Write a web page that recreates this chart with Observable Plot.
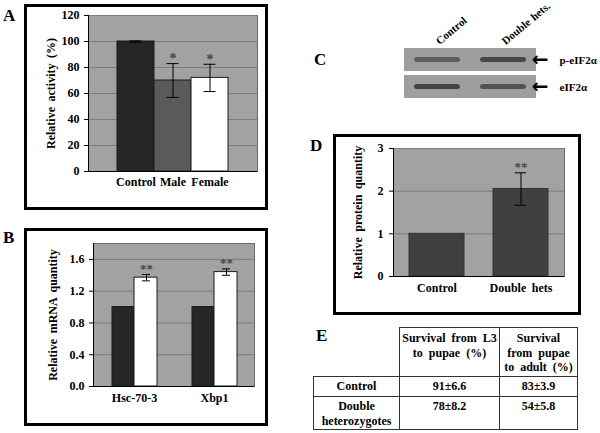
<!DOCTYPE html>
<html><head><meta charset="utf-8">
<script src="https://cdn.jsdelivr.net/npm/d3@7"></script>
<script src="https://cdn.jsdelivr.net/npm/@observablehq/plot@0.6"></script>
<style>
body{margin:0;background:#fff;}
#fig{position:relative;width:600px;height:433px;overflow:hidden;font-family:"Liberation Serif","Times New Roman",serif;font-weight:bold;color:#000;background:#fff;}
.box{position:absolute;border:3px solid #000;box-sizing:border-box;}
.lbl{position:absolute;font-size:17px;line-height:17px;}
.plot{position:absolute;}
.plot svg{font-family:"Liberation Serif","Times New Roman",serif;font-weight:bold;overflow:visible;}
.plot svg text{word-spacing:2.5px;}
#pC svg text{word-spacing:1px;}
#tblE{position:absolute;left:313px;top:327px;border-collapse:collapse;font-size:12px;line-height:14.5px;table-layout:fixed;word-spacing:3px;}
#tblE td{border:1px solid #333;text-align:center;vertical-align:top;padding:2px 0 0 0;}
</style></head>
<body>
<div id="fig">
  <div class="box" style="left:24px;top:4px;width:244px;height:206px"></div>
  <div class="box" style="left:24px;top:228px;width:244px;height:198px"></div>
  <div class="box" style="left:333px;top:134px;width:248px;height:181px"></div>
  <div class="lbl" style="left:3px;top:7px">A</div>
  <div class="lbl" style="left:3px;top:229px">B</div>
  <div class="lbl" style="left:314px;top:51px">C</div>
  <div class="lbl" style="left:310px;top:137px">D</div>
  <div class="lbl" style="left:316px;top:327px">E</div>
  <div class="plot" id="pA" style="left:30px;top:8px"></div>
  <div class="plot" id="pB" style="left:30px;top:233px"></div>
  <div class="plot" id="pC" style="left:380px;top:0px"></div>
  <div class="plot" id="pD" style="left:336px;top:137px"></div>
  <table id="tblE"></table>
</div>
<script>
// ---- Panel A: relative activity ----
const activityGroups = ["Control", "Male", "Female"];
const activityValues = [100, 70, 72];
const activityErrors = [0.4, 13, 10.5];
const activityStars = ["", "*", "*"];
const activityColors = ["#262626", "#5a5a5a", "#ffffff"];
const activityTicks = [0, 20, 40, 60, 80, 100, 120];

// ---- Panel B: relative mRNA quantity ----
const mrnaGenes = ["Hsc-70-3", "Xbp1"];
const mrnaControl = [1.0, 1.0];
const mrnaHets = [1.37, 1.44];
const mrnaHetsErrors = [0.04, 0.04];
const mrnaStars = ["**", "**"];
const mrnaTicks = [0, 0.4, 0.8, 1.2, 1.6];

// ---- Panel C: western blot ----
const blotLanes = ["Control", "Double hets."];
const blotProteins = ["p-eIF2α", "eIF2α"];
const bandIntensityP = [0.55, 0.75];
const bandIntensityTotal = [0.8, 0.65];

// ---- Panel D: relative protein quantity ----
const proteinGroups = ["Control", "Double hets"];
const proteinValues = [1.0, 2.05];
const proteinErrors = [0, 0.38];
const proteinStars = ["", "**"];
const proteinTicks = [0, 1, 2, 3];

// ---- Panel E: survival table ----
const survivalHeaders = ["Survival from L3<br>to pupae (%)", "Survival<br>from pupae<br>to adult (%)"];
const survivalRows = ["Control", "Double<br>heterozygotes"];
const survivalL3 = ["91±6.6", "78±8.2"];
const survivalAdult = ["83±3.9", "54±5.8"];

const BG = "#a2a2a2", GRID = "#7c7c7c", EDGE = "#6a6a6a";
const baseStyle = {fontFamily: "Liberation Serif, serif", fontWeight: "bold", fontSize: "12px", background: "transparent", overflow: "visible"};

// Panel A
const dA = activityGroups.map((g, i) => ({g, v: activityValues[i], e: activityErrors[i], s: activityStars[i], c: activityColors[i]}));
const plotA = Plot.plot({
  width: 232, height: 196, marginLeft: 58, marginRight: 5, marginTop: 7, marginBottom: 33,
  style: baseStyle,
  color: {type: "identity"},
  x: {domain: activityGroups, paddingInner: 0, paddingOuter: 0.78, axis: null},
  y: {domain: [0, 120], axis: null},
  marks: [
    Plot.frame({fill: BG, stroke: EDGE}),
    Plot.gridY(activityTicks, {stroke: GRID, strokeOpacity: 1}),
    Plot.barY(dA, {x: "g", y: "v", fill: "c", stroke: "#1a1a1a"}),
    Plot.ruleX(dA, {x: "g", y1: d => d.v - d.e, y2: d => d.v + d.e, stroke: "#000"}),
    Plot.tickY(dA, {x: "g", y: d => d.v + d.e, insetLeft: 12.5, insetRight: 12.5, stroke: "#000"}),
    Plot.tickY(dA, {x: "g", y: d => d.v - d.e, insetLeft: 12.5, insetRight: 12.5, stroke: "#000"}),
    Plot.text(dA, {x: "g", y: d => d.v + d.e, text: "s", dy: -5, fontSize: 14, fill: "#444"}),
    Plot.ruleY([0], {stroke: "#000"}),
    Plot.frame({anchor: "left", stroke: "#000"}),
    Plot.axisY({ticks: activityTicks, tickSize: 4, tickPadding: 5, fontSize: 12, label: "Relative activity (%)", labelAnchor: "center", labelOffset: 42, labelArrow: false}),
    Plot.axisX({tickSize: 0, tickPadding: 6, fontSize: 12, label: null})
  ]
});
document.getElementById("pA").append(plotA);

// Panel B
const dB = mrnaGenes.map((g, i) => ({g, c: mrnaControl[i], h: mrnaHets[i], e: mrnaHetsErrors[i], s: mrnaStars[i]}));
const plotB = Plot.plot({
  width: 232, height: 190, marginLeft: 63, marginRight: 8, marginTop: 10, marginBottom: 37,
  style: baseStyle,
  x: {domain: mrnaGenes, padding: 0, axis: null},
  y: {domain: [0, 1.8], axis: null},
  marks: [
    Plot.frame({fill: BG, stroke: EDGE}),
    Plot.gridY(mrnaTicks, {stroke: GRID, strokeOpacity: 1}),
    Plot.barY(dB, {x: "g", y: "c", insetLeft: 18, insetRight: 40, fill: "#262626", stroke: "#1a1a1a"}),
    Plot.barY(dB, {x: "g", y: "h", insetLeft: 40, insetRight: 17, fill: "#ffffff", stroke: "#1a1a1a"}),
    Plot.ruleX(dB, {x: "g", y1: d => d.h - d.e, y2: d => d.h + d.e, dx: 12, stroke: "#000"}),
    Plot.tickY(dB, {x: "g", y: d => d.h + d.e, insetLeft: 48, insetRight: 24, stroke: "#000"}),
    Plot.tickY(dB, {x: "g", y: d => d.h - d.e, insetLeft: 48, insetRight: 24, stroke: "#000"}),
    Plot.text(dB, {x: "g", y: d => d.h + d.e, text: "s", dx: 12, dy: -6, fontSize: 13, fill: "#444"}),
    Plot.ruleY([0], {stroke: "#000"}),
    Plot.frame({anchor: "left", stroke: "#000"}),
    Plot.axisY({ticks: mrnaTicks, tickSize: 4, tickPadding: 5, fontSize: 12, label: "Relative mRNA quantity", labelAnchor: "center", labelOffset: 45, labelArrow: false}),
    Plot.axisX({tickSize: 0, tickPadding: 7, fontSize: 12, label: null})
  ]
});
document.getElementById("pB").append(plotB);

// Panel C
const blotCells = blotProteins.flatMap((p, i) => blotLanes.map((l, j) => ({p, l, v: (i === 0 ? bandIntensityP : bandIntensityTotal)[j]})));
const plotC = Plot.plot({
  width: 220, height: 110, marginLeft: 24, marginRight: 64, marginTop: 48, marginBottom: 12,
  style: baseStyle,
  opacity: {type: "identity"},
  x: {domain: blotLanes, padding: 0, axis: null},
  y: {domain: blotProteins, paddingInner: 0.15, paddingOuter: 0, axis: null},
  marks: [
    Plot.cell(blotCells, {x: "l", y: "p", fill: "#9e9e9e"}),
    Plot.cell(blotCells, {x: "l", y: "p", fill: "#2a2a2a", fillOpacity: "v", insetLeft: 10, insetRight: 10, insetTop: 9, insetBottom: 9, rx: 3, ariaLabel: "bands"}),
    Plot.axisX({anchor: "top", tickSize: 0, tickRotate: -40, textAnchor: "start", tickPadding: 6, fontSize: 11, label: null}),
    Plot.axisY({anchor: "right", tickSize: 0, tickPadding: 23, fontSize: 11, label: null}),
    Plot.text(blotProteins, {y: d => d, text: () => "←", frameAnchor: "right", dx: 12, fontSize: 20, fontFamily: "DejaVu Sans", fontWeight: "bold"})
  ]
});
{
  const svg = d3.select(plotC.tagName === "svg" ? plotC : plotC.querySelector("svg"));
  svg.append("defs").append("filter").attr("id", "blur").append("feGaussianBlur").attr("stdDeviation", 1.6);
  svg.selectAll('g[aria-label="bands"]').attr("filter", "url(#blur)");
}
document.getElementById("pC").append(plotC);

// Panel D
const dD = proteinGroups.map((g, i) => ({g, v: proteinValues[i], e: proteinErrors[i], s: proteinStars[i]}));
const plotD = Plot.plot({
  width: 240, height: 174, marginLeft: 57, marginRight: 12, marginTop: 11, marginBottom: 35,
  style: baseStyle,
  x: {domain: proteinGroups, paddingInner: 0.34, paddingOuter: 0.176, axis: null},
  y: {domain: [0, 3], axis: null},
  marks: [
    Plot.frame({fill: BG, stroke: EDGE}),
    Plot.gridY(proteinTicks, {stroke: GRID, strokeOpacity: 1}),
    Plot.barY(dD, {x: "g", y: "v", fill: "#404040", stroke: "#333"}),
    Plot.ruleX(dD.filter(d => d.e > 0), {x: "g", y1: d => d.v - d.e, y2: d => d.v + d.e, stroke: "#000"}),
    Plot.tickY(dD.filter(d => d.e > 0), {x: "g", y: d => d.v + d.e, insetLeft: 22, insetRight: 22, stroke: "#000"}),
    Plot.tickY(dD.filter(d => d.e > 0), {x: "g", y: d => d.v - d.e, insetLeft: 22, insetRight: 22, stroke: "#000"}),
    Plot.text(dD, {x: "g", y: d => d.v + d.e, text: "s", dy: -6, fontSize: 13, fill: "#444"}),
    Plot.ruleY([0], {stroke: "#000"}),
    Plot.frame({anchor: "left", stroke: "#000"}),
    Plot.axisY({ticks: proteinTicks, tickFormat: d => String(d), tickSize: 4, tickPadding: 6, fontSize: 12, label: "Relative protein quantity", labelAnchor: "center", labelOffset: 40, labelArrow: false}),
    Plot.axisX({tickSize: 0, tickPadding: 7, fontSize: 12, label: null})
  ]
});
document.getElementById("pD").append(plotD);

// Panel E table
const tbl = document.getElementById("tblE");
const colW = [86, 100, 78];
const cg = document.createElement("colgroup");
colW.forEach(w => { const c = document.createElement("col"); c.style.width = w + "px"; cg.append(c); });
tbl.append(cg);
const hr = tbl.insertRow();
hr.style.height = "49px";
const blank = hr.insertCell(); blank.style.border = "none"; blank.style.borderRight = "1px solid #333"; blank.style.borderBottom = "1px solid #333";
survivalHeaders.forEach(h => { const c = hr.insertCell(); c.innerHTML = h; c.style.paddingTop = "3px"; });
survivalRows.forEach((r, i) => {
  const row = tbl.insertRow();
  row.style.height = i === 0 ? "20px" : "33px";
  [r, survivalL3[i], survivalAdult[i]].forEach(t => {
    const c = row.insertCell(); c.innerHTML = t;
    if (i === 0) { c.style.verticalAlign = "middle"; c.style.paddingTop = "0"; }
  });
});
</script>
</body></html>
